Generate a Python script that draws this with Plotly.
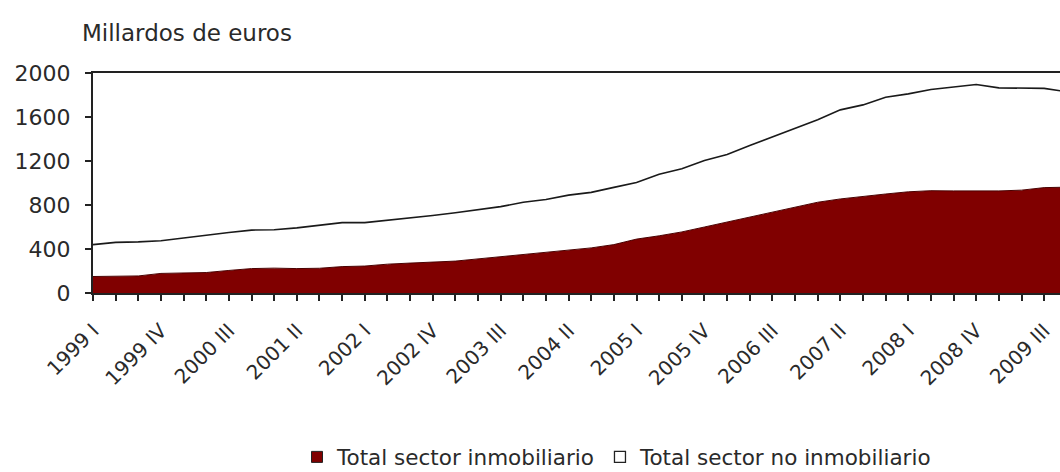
import plotly.graph_objects as go

quarters = []
for yr in range(1999, 2010):
    for q in ["I", "II", "III", "IV"]:
        quarters.append(f"{yr} {q}")

real_estate = [150, 152, 155, 178, 182, 186, 205, 222, 226, 222,
               225, 240, 245, 262, 272, 280, 290, 310, 330, 345,
               365, 390, 410, 440, 490, 520, 555, 600, 645, 690,
               735, 780, 825, 855, 880, 900, 920, 930, 928, 928,
               928, 935, 958, 962]

non_real_estate = [290, 308, 310, 297, 318, 342, 345, 350, 349, 370,
                   393, 400, 395, 398, 408, 425, 440, 445, 455, 480,
                   485, 500, 505, 520, 515, 560, 575, 605, 615, 650,
                   685, 720, 750, 810, 830, 880, 890, 920, 942, 967,
                   937, 927, 902, 868]

tick_labels = [q if i % 3 == 0 else "" for i, q in enumerate(quarters)]
y_ticks = [0, 400, 800, 1200, 1600, 2000]

FONT = "DejaVu Sans, sans-serif"
TXT = "#2a2a2a"

fig = go.Figure()
fig.add_trace(go.Scatter(
    x=quarters, y=real_estate, stackgroup="one", mode="lines",
    line=dict(color="#4a0000", width=1), fillcolor="#800000",
    name="Total sector inmobiliario", showlegend=False, hoverinfo="skip"))
fig.add_trace(go.Scatter(
    x=quarters, y=non_real_estate, stackgroup="one", mode="lines",
    line=dict(color="#1a1a1a", width=1.6), fillcolor="#ffffff",
    name="Total sector no inmobiliario", showlegend=False, hoverinfo="skip"))

# legend entries
fig.add_trace(go.Scatter(
    x=[None], y=[None], mode="markers", name="Total sector inmobiliario",
    marker=dict(symbol="square", size=11, color="#800000",
                line=dict(color="#222", width=1))))
fig.add_trace(go.Scatter(
    x=[None], y=[None], mode="markers", name="Total sector no inmobiliario",
    marker=dict(symbol="square", size=11, color="#ffffff",
                line=dict(color="#222", width=1.3))))

fig.update_layout(
    width=1060, height=472,
    margin=dict(l=93, r=0, t=73, b=179, autoexpand=False),
    paper_bgcolor="white", plot_bgcolor="white",
    font=dict(family=FONT, color=TXT),
    title=dict(text="Millardos de euros", x=82 / 1060, xanchor="left",
               y=1 - 33 / 472, yanchor="middle",
               font=dict(family=FONT, size=23, color=TXT)),
    showlegend=True,
    legend=dict(orientation="h", traceorder="normal",
                x=(297 - 93) / 967, xanchor="left",
                y=-0.745, yanchor="middle",
                font=dict(family=FONT, size=21.5, color=TXT),
                itemwidth=30, bgcolor="rgba(0,0,0,0)"),
    xaxis=dict(type="category", range=[0, 42.7],
               tickmode="array", tickvals=quarters, ticktext=tick_labels,
               tickangle=-45, ticks="outside", ticklen=6, tickwidth=2,
               tickcolor="#222", showline=True, linecolor="#222",
               linewidth=2, mirror=True, showgrid=False, zeroline=False,
               ticklabelstandoff=10,
               tickfont=dict(family=FONT, size=20, color=TXT)),
    yaxis=dict(range=[0, 2000], tickmode="array", tickvals=y_ticks,
               ticks="outside", ticklen=6, tickwidth=2, tickcolor="#222",
               showline=True, linecolor="#222", linewidth=2,
               showgrid=False, zeroline=False, ticklabelstandoff=10,
               tickfont=dict(family=FONT, size=22, color=TXT)),
)

fig.write_html("out.html")
